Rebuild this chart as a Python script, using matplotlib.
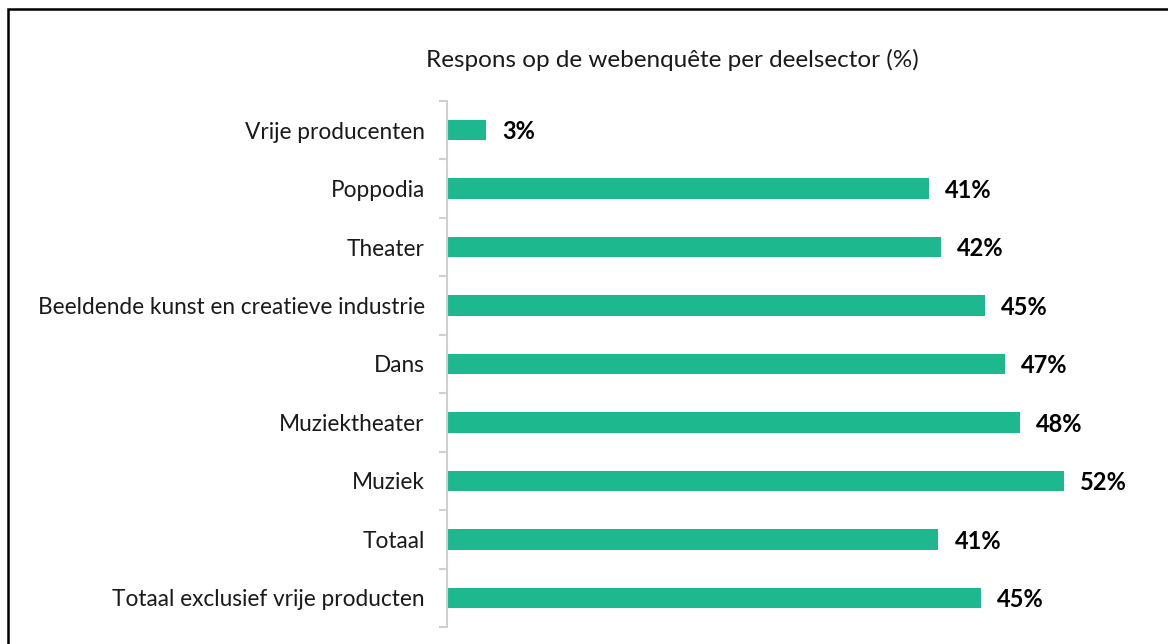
import matplotlib
matplotlib.use('Agg')
import matplotlib.pyplot as plt
from matplotlib.patches import Rectangle
import numpy as np

plt.rcParams['font.family'] = ['Lato', 'DejaVu Sans']

categories = ['Vrije producenten', 'Poppodia', 'Theater',
              'Beeldende kunst en creatieve industrie', 'Dans',
              'Muziektheater', 'Muziek', 'Totaal',
              'Totaal exclusief vrije producten']
values = [3.3, 40.6, 41.6, 45.3, 47.0, 48.3, 52.0, 41.4, 45.0]
labels = ['3%', '41%', '42%', '45%', '47%', '48%', '52%', '41%', '45%']

green = '#1db88e'

fig = plt.figure(figsize=(11.68, 6.44), dpi=100)
ax = fig.add_axes([447/1168, 1 - 627/644, (1150-447)/1168, (627-101)/644])

y = np.arange(len(categories))
ax.barh(y, values, height=0.35, color=green)
for yi, v, lab in zip(y, values, labels):
    ax.text(v + 1.35, yi + 0.03, lab, va='center', ha='left', fontsize=17,
            fontweight='bold', color='black')

ax.set_ylim(len(categories) - 0.5, -0.5)
ax.set_xlim(0, (1150-447)/11.87)

# category names, ticks sit between the categories
ax.set_yticks(y)
ax.set_yticklabels(categories, fontsize=16.3, color='#1a1a1a')
ax.tick_params(axis='y', which='major', length=0, pad=16)
ax.set_yticks(np.arange(-0.5, len(categories)), minor=True)
ax.tick_params(axis='y', which='minor', length=6, color='#d0d0d0', width=1.5)
ax.set_xticks([])

for s in ['top', 'right', 'bottom']:
    ax.spines[s].set_visible(False)
ax.spines['left'].set_color('#d0d0d0')
ax.spines['left'].set_linewidth(1.5)

fig.text(672/1168, 1 - 60/644, 'Respons op de webenquête per deelsector (%)',
         ha='center', va='center', fontsize=17.5, color='#1a1a1a')

fig.patches.append(Rectangle((7.5/1168, -0.1), 1.2, 1 - 9/644 + 0.1,
                             transform=fig.transFigure, fill=False,
                             edgecolor='black', linewidth=1.8))

fig.savefig('out.png', dpi=100)
